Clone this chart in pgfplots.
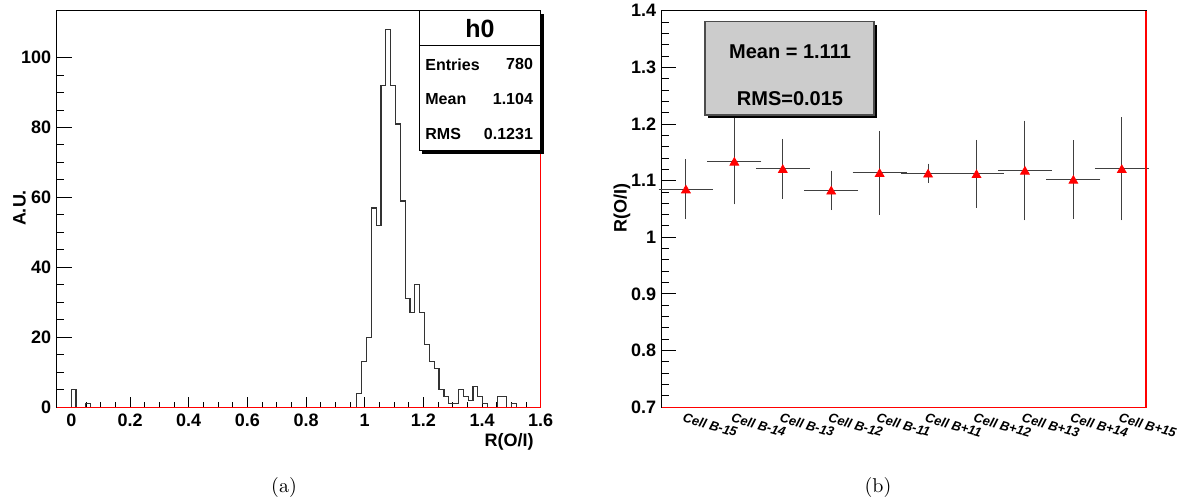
\documentclass[border=0pt]{standalone}
\usepackage{fontspec}
\usepackage{pgfplots}
\pgfplotsset{compat=1.18}
\newfontfamily\arial{Liberation Sans}
\newcommand\tickfont{\arial\bfseries\fontsize{9}{10}\selectfont}
\newcommand\labfont{\arial\bfseries\fontsize{9}{11}\selectfont}
\newcommand\statfont{\arial\bfseries\fontsize{8}{10}\selectfont}
\definecolor{rootgray}{RGB}{204,204,204}
\begin{document}
\begin{tikzpicture}
\useasboundingbox (0,0) rectangle (588.5pt,251.5pt);
% ---------------- left: histogram ----------------
\begin{axis}[
  name=L,
  at={(28.35pt,47.85pt)}, anchor=south west,
  scale only axis, width=242pt, height=198.3pt,
  xmin=-0.05, xmax=1.6, ymin=0, ymax=113.4,
  xtick={0,0.2,0.4,0.6,0.8,1,1.2,1.4,1.6}, minor x tick num=3,
  ytick={0,20,40,60,80,100}, minor y tick num=3,
  tick align=inside, xtick pos=left, ytick pos=left,
  axis line style={line width=0.6pt},
  tick style={black, line width=0.5pt},
  xtick style={/pgfplots/major tick length=5.3pt,/pgfplots/minor tick length=2.5pt},
  ytick style={/pgfplots/major tick length=7.5pt,/pgfplots/minor tick length=3.6pt},
  /pgf/number format/assume math mode=true,
  tick label style={font=\tickfont},
  yticklabel style={xshift=0.8pt},
  clip=false,
]
\addplot[const plot, black!80, line width=0.6pt] coordinates {
 (-0.05,0) (-0.0005,5) (0.016,0) (0.049,1) (0.0655,0)
 (0.973,4) (0.9895,13) (1.006,20) (1.0225,57) (1.039,52)
 (1.0555,92) (1.072,108) (1.0885,92) (1.105,81) (1.1215,59)
 (1.138,31) (1.1545,27) (1.171,35) (1.1875,27) (1.204,18)
 (1.2205,13) (1.237,11) (1.2535,5) (1.27,3) (1.2865,1)
 (1.303,1) (1.3195,5) (1.336,3) (1.3525,2) (1.369,6)
 (1.3855,3) (1.402,1) (1.4185,0) (1.4515,3) (1.468,3)
 (1.4845,0) (1.501,1) (1.5175,0) (1.6,0)
};
\end{axis}
\draw[red, line width=0.6pt] (L.south west) -- (L.south east) -- (L.north east);
% y label, x label
\node[rotate=90, font=\labfont] at (9.8pt,147.5pt) {A.U.};
\node[anchor=east, font=\labfont] at (270.3pt,30.5pt) {R(O/I)};
% stats box
\fill[black] (211.15pt,174.65pt) rectangle (271.85pt,244.65pt);
\filldraw[fill=white, draw=black, line width=0.6pt] (209.65pt,176.15pt) rectangle (270.35pt,246.15pt);
\draw[black, line width=0.5pt] (209.65pt,228.65pt) -- (270.35pt,228.65pt);
\node[font=\arial\bfseries\fontsize{12.5}{14}\selectfont] at (240pt,237.4pt) {h0};
\node[anchor=west, font=\statfont, inner sep=0pt] at (212.5pt,219.35pt) {Entries};
\node[anchor=east, font=\statfont, inner sep=0pt] at (266.65pt,219.35pt) {780};
\node[anchor=west, font=\statfont, inner sep=0pt] at (212.5pt,201.85pt) {Mean};
\node[anchor=east, font=\statfont, inner sep=0pt] at (266.65pt,201.85pt) {1.104};
\node[anchor=west, font=\statfont, inner sep=0pt] at (212.5pt,184.35pt) {RMS};
\node[anchor=east, font=\statfont, inner sep=0pt] at (266.65pt,184.35pt) {0.1231};
% ---------------- right: ratios ----------------
\begin{axis}[
  name=R,
  at={(330.85pt,47.85pt)}, anchor=south west,
  scale only axis, width=242.15pt, height=198.3pt,
  xmin=0, xmax=10, ymin=0.7, ymax=1.4,
  xtick={0.5,1.5,2.5,3.5,4.5,5.5,6.5,7.5,8.5,9.5},
  xticklabels={Cell B-15,Cell B-14,Cell B-13,Cell B-12,Cell B-11,Cell B+11,Cell B+12,Cell B+13,Cell B+14,Cell B+15},
  extra x ticks={1,2,3,4,5,6,7,8,9},
  extra x tick labels={},
  extra x tick style={/pgfplots/major tick length=5.3pt},
  ytick={0.7,0.8,0.9,1,1.1,1.2,1.3,1.4}, minor y tick num=4,
  tick align=inside, xtick pos=left, ytick pos=left,
  axis line style={line width=0.6pt},
  tick style={black, line width=0.5pt},
  xtick style={/pgfplots/major tick length=0pt},
  ytick style={/pgfplots/major tick length=7pt,/pgfplots/minor tick length=3.5pt},
  /pgf/number format/assume math mode=true,
  yticklabel style={font=\tickfont, xshift=0.8pt},
  xticklabel style={font=\arial\bfseries\itshape\fontsize{6.5}{7}\selectfont, rotate=-16, anchor=north west, inner sep=1pt, yshift=-1.5pt, xshift=-1pt},
  clip=false,
]
\addplot[only marks, mark=triangle*, mark size=2.5pt,
  mark options={fill=red, draw=red, yshift=-0.6pt},
  error bars/.cd, x dir=both, x explicit, y dir=both, y explicit,
  error bar style={black!75, line width=0.55pt},
  error mark options={black!75, mark size=1.4pt, line width=0.55pt}]
coordinates {
 (0.5,1.085) +- (0.5,0.048)
 (1.5,1.134) +- (0.5,0.071)
 (2.5,1.121) +- (0.5,0.048)
 (3.5,1.083) +- (0.5,0.030)
 (4.5,1.114) +- (0.5,0.069)
 (5.5,1.113) +- (0.5,0.012)
 (6.5,1.112) +- (0.5,0.055)
 (7.5,1.118) +- (0.5,0.083)
 (8.5,1.102) +- (0.5,0.064)
 (9.5,1.121) +- (0.5,0.086)
};
\end{axis}
\draw[red, line width=0.6pt] (R.south west) -- (R.south east) -- (R.north east);
\node[rotate=90, font=\labfont] at (311pt,147.5pt) {R(O/I)};
% mean box
\fill[black] (354.15pt,192.35pt) rectangle (438.65pt,239pt);
\filldraw[fill=rootgray, draw=black!70, line width=0.6pt] (352.5pt,194pt) rectangle (437pt,240.65pt);
\node[font=\arial\bfseries\fontsize{10}{12}\selectfont] at (395pt,225.65pt) {Mean = 1.111};
\node[font=\arial\bfseries\fontsize{10}{12}\selectfont] at (395pt,202.35pt) {RMS=0.015};
% captions
\node[font=\fontsize{10}{12}\selectfont] at (142pt,8pt) {(a)};
\node[font=\fontsize{10}{12}\selectfont] at (439pt,8pt) {(b)};
\end{tikzpicture}
\end{document}
